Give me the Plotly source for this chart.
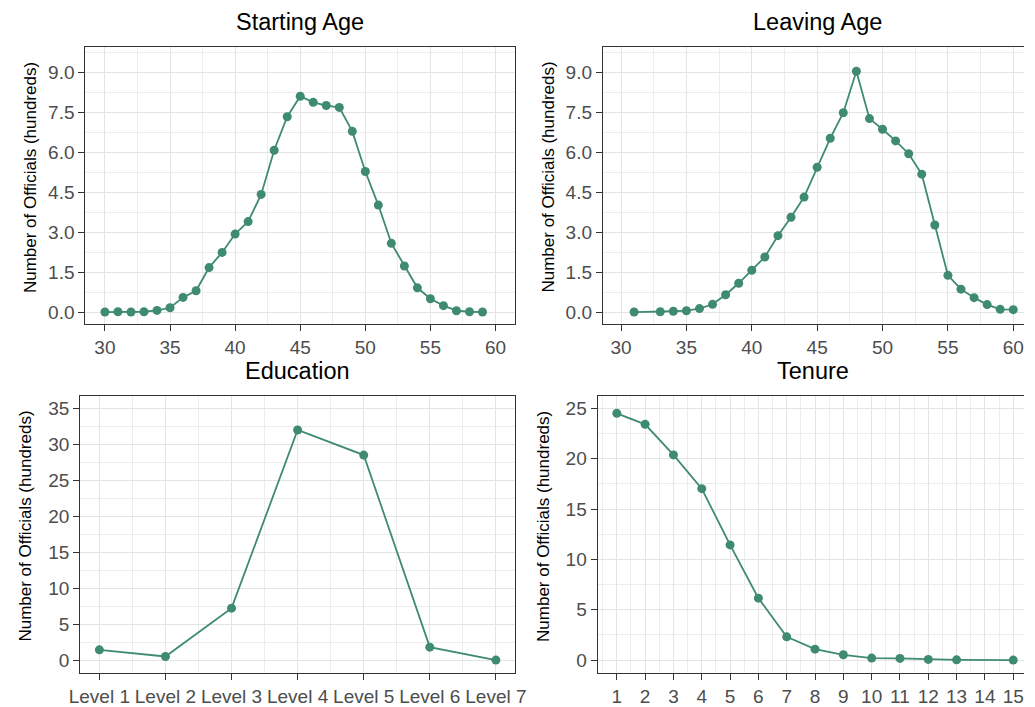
import plotly.graph_objects as go

# ---------------- data ----------------
start_age = [30, 31, 32, 33, 34, 35, 36, 37, 38, 39, 40, 41, 42, 43, 44, 45, 46, 47, 48, 49,
             50, 51, 52, 53, 54, 55, 56, 57, 58, 59]
start_cnt = [0.0, 0.01, 0.0, 0.01, 0.06, 0.16, 0.55, 0.80, 1.67, 2.24, 2.93, 3.40, 4.42, 6.08,
             7.34, 8.11, 7.88, 7.76, 7.69, 6.79, 5.28, 4.02, 2.58, 1.73, 0.91, 0.50, 0.24,
             0.05, 0.01, 0.0]

leave_age = [31, 33, 34, 35, 36, 37, 38, 39, 40, 41, 42, 43, 44, 45, 46, 47, 48, 49, 50, 51,
             52, 53, 54, 55, 56, 57, 58, 59, 60]
leave_cnt = [0.0, 0.01, 0.03, 0.05, 0.13, 0.29, 0.65, 1.08, 1.57, 2.07, 2.87, 3.56, 4.32, 5.44,
             6.53, 7.49, 9.05, 7.27, 6.87, 6.43, 5.95, 5.18, 3.27, 1.38, 0.86, 0.54, 0.28,
             0.10, 0.09]

edu_levels = ["Level 1", "Level 2", "Level 3", "Level 4", "Level 5", "Level 6", "Level 7"]
edu_pos = [1, 2, 3, 4, 5, 6, 7]
edu_cnt = [1.43, 0.5, 7.22, 31.98, 28.5, 1.8, 0.0]

tenure = [1, 2, 3, 4, 5, 6, 7, 8, 9, 10, 11, 12, 13, 15]
tenure_cnt = [24.5, 23.41, 20.37, 17.02, 11.44, 6.15, 2.31, 1.09, 0.53, 0.2, 0.17, 0.07,
              0.03, 0.0]

titles = ["Starting Age", "Leaving Age", "Education", "Tenure"]
ylabel = "Number of Officials (hundreds)"

# ---------------- style ----------------
W, H = 1035, 707
COL = "#3f8b70"
GRID = "#E4E4E4"
MINOR = "#EDEDED"
BORDER = "#333333"
TICKC = "#4D4D4D"
FONT = "Liberation Sans, Arial, sans-serif"


def px_x(a, b):
    return [a / W, min(b / W, 1.0)]


def px_y(top, bottom):
    return [1 - bottom / H, 1 - top / H]


fig = go.Figure()

series = [(start_age, start_cnt), (leave_age, leave_cnt), (edu_pos, edu_cnt), (tenure, tenure_cnt)]
for i, (xs, ys) in enumerate(series):
    sfx = "" if i == 0 else str(i + 1)
    fig.add_trace(go.Scatter(
        x=xs, y=ys, mode="lines+markers",
        line=dict(color=COL, width=1.8),
        marker=dict(color=COL, size=9),
        xaxis="x" + sfx, yaxis="y" + sfx, showlegend=False,
    ))

panels = [
    dict(xd=(76, 515), yd=(47, 324), xr=[28.5, 61.5], yr=[-0.45, 9.96]),
    dict(xd=(604.7, 1035), yd=(47, 324), xr=[28.61, 60.82], yr=[-0.45, 9.96]),
    dict(xd=(70.7, 515), yd=(395.7, 672.7), xr=[0.71, 7.29], yr=[-1.75, 36.75]),
    dict(xd=(599.3, 1035), yd=(395.7, 672.7), xr=[0.32, 15.38], yr=[-1.25, 26.25]),
]

common_axis = dict(
    showgrid=True, gridcolor=GRID, gridwidth=1.2,
    zeroline=False, showline=True, linecolor=BORDER, linewidth=1.1,
    ticks="outside", ticklen=6, tickwidth=1.1, tickcolor=BORDER,
    tickfont=dict(family=FONT, size=19, color=TICKC),
)


def minor(t0, dt):
    return dict(tickmode="linear", tick0=t0, dtick=dt, showgrid=True, gridcolor=MINOR, gridwidth=1)


xticks = [
    dict(tickmode="linear", tick0=30, dtick=5, minor=minor(27.5, 5)),
    dict(tickmode="linear", tick0=30, dtick=5, minor=minor(27.5, 5)),
    dict(tickmode="array", tickvals=edu_pos, ticktext=edu_levels, minor=minor(0.5, 1)),
    dict(tickmode="linear", tick0=1, dtick=1, minor=minor(0.5, 1)),
]
yticks = [
    dict(tickmode="linear", tick0=0, dtick=1.5, tickformat=".1f", minor=minor(0.75, 1.5)),
    dict(tickmode="linear", tick0=0, dtick=1.5, tickformat=".1f", minor=minor(0.75, 1.5)),
    dict(tickmode="linear", tick0=0, dtick=5, minor=minor(2.5, 5)),
    dict(tickmode="linear", tick0=0, dtick=5, minor=minor(2.5, 5)),
]

layout = {}
annotations = []
for i, p in enumerate(panels):
    sfx = "" if i == 0 else str(i + 1)
    right_cut = p["xd"][1] >= W
    xa = dict(common_axis, domain=px_x(*p["xd"]), range=p["xr"], anchor="y" + sfx,
              mirror=True, **xticks[i])
    ya = dict(common_axis, domain=px_y(*p["yd"]), range=p["yr"], anchor="x" + sfx,
              mirror=(not right_cut), **yticks[i])
    layout["xaxis" + sfx] = xa
    layout["yaxis" + sfx] = ya
    xc = (p["xd"][0] + (p["xd"][1] if not right_cut else p["xd"][0] + 439.5)) / 2
    annotations.append(dict(
        text=titles[i], x=xc / W, y=1 - (p["yd"][0] - 25) / H, xref="paper", yref="paper",
        xanchor="center", yanchor="middle", showarrow=False,
        font=dict(family=FONT, size=23.5, color="#000000"),
    ))
    annotations.append(dict(
        text=ylabel, x=(p["xd"][0] - 56) / W, y=1 - ((p["yd"][0] + p["yd"][1]) / 2 - 8) / H,
        xref="paper", yref="paper", xanchor="center", yanchor="middle", textangle=-90,
        showarrow=False, font=dict(family=FONT, size=17, color="#000000"),
    ))

fig.update_layout(
    width=W, height=H,
    margin=dict(l=0, r=0, t=0, b=0),
    paper_bgcolor="white", plot_bgcolor="white",
    annotations=annotations,
    **layout,
)

fig.write_html(
    "out.html",
    config={"displayModeBar": False},
    post_script="document.body.style.margin='0';document.body.style.padding='0';"
                "document.body.style.overflow='hidden';",
)
